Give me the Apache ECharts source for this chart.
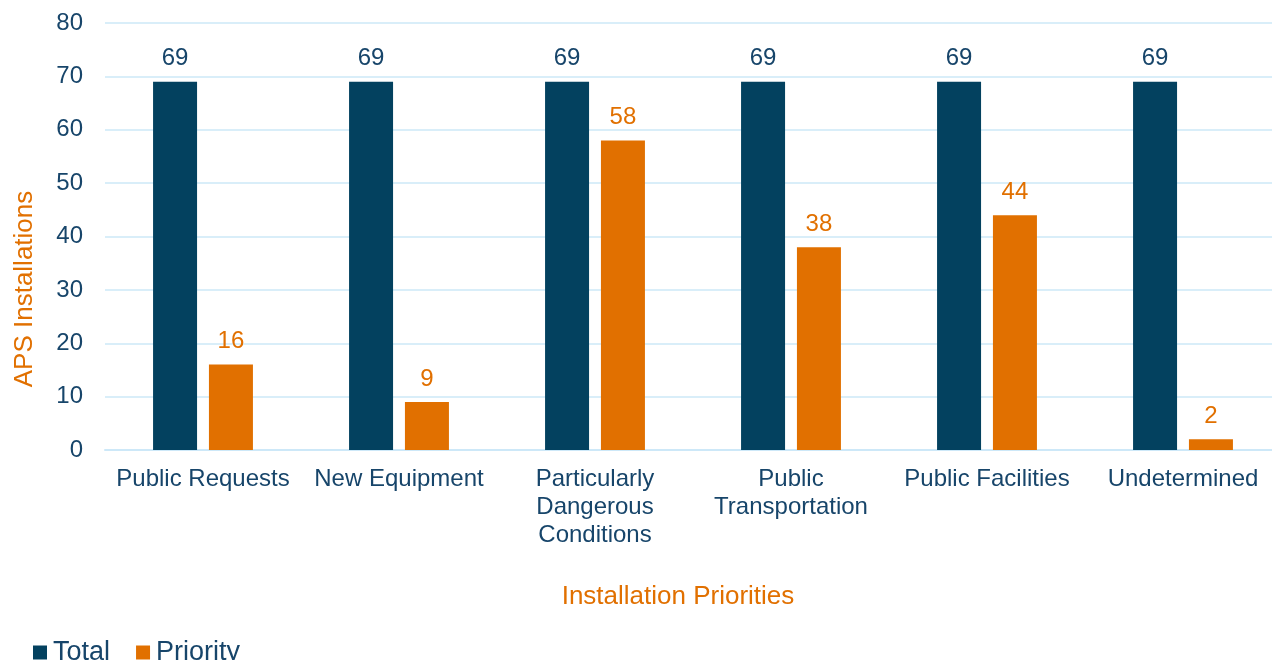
<!DOCTYPE html>
<html>
<head>
<meta charset="utf-8">
<script src="https://cdn.jsdelivr.net/npm/echarts@6/dist/echarts.min.js"></script>
<style>html,body{margin:0;padding:0;background:#fff}#c{width:1272px;height:660px}</style>
</head>
<body>
<div id="c"></div>
<script>
var categories = ['Public Requests', 'New Equipment', 'Particularly\nDangerous\nConditions', 'Public\nTransportation', 'Public Facilities', 'Undetermined'];
var totalValues = [69, 69, 69, 69, 69, 69];
var priorityValues = [16, 9, 58, 38, 44, 2];
var yTicks = { min: 0, max: 80, interval: 10 };

var navy = '#03415f';
var orange = '#e17000';
var textColor = '#17456a';
var font = '"Liberation Sans", Arial, sans-serif';

var chart = echarts.init(document.getElementById('c'));
chart.setOption({
  animation: false,
  textStyle: { fontFamily: font },
  grid: { left: 105, width: 1176, top: 23, height: 427, containLabel: false, outerBoundsMode: 'none' },
  xAxis: {
    type: 'category',
    data: categories,
    axisLine: { lineStyle: { color: '#cde8f8', width: 2 } },
    axisTick: { show: false },
    axisLabel: { color: textColor, fontSize: 24, lineHeight: 28, margin: 15, interval: 0, fontFamily: font }
  },
  yAxis: {
    type: 'value',
    min: yTicks.min, max: yTicks.max, interval: yTicks.interval,
    axisLine: { show: false },
    axisTick: { show: false },
    splitLine: { lineStyle: { color: '#d9eef9', width: 2 } },
    axisLabel: { color: textColor, fontSize: 24, margin: 22, fontFamily: font }
  },
  legend: {
    left: 28, top: 634,
    icon: 'rect', itemWidth: 14, itemHeight: 14, itemGap: 26,
    textStyle: { color: textColor, fontSize: 27, fontFamily: font, padding: [0, 0, 0, 1] },
    data: ['Total', 'Priority']
  },
  graphic: [
    { type: 'text', x: 25, y: 289, rotation: Math.PI / 2,
      style: { text: 'APS Installations', fill: orange, font: '26px ' + font, textAlign: 'center', textVerticalAlign: 'middle' } },
    { type: 'text', x: 678, y: 597,
      style: { text: 'Installation Priorities', fill: orange, font: '26px ' + font, textAlign: 'center', textVerticalAlign: 'middle' } }
  ],
  series: [
    { name: 'Total', type: 'bar', data: totalValues, barWidth: 44, barGap: '27%',
      itemStyle: { color: navy },
      label: { show: true, position: 'top', distance: 11, color: textColor, fontSize: 24, fontFamily: font } },
    { name: 'Priority', type: 'bar', data: priorityValues, barWidth: 44,
      itemStyle: { color: orange },
      label: { show: true, position: 'top', distance: 11, color: orange, fontSize: 24, fontFamily: font } }
  ]
});
</script>
</body>
</html>
